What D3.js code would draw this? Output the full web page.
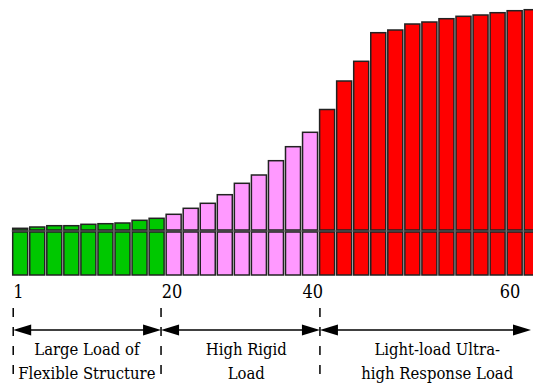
<!DOCTYPE html>
<html>
<head>
<meta charset="utf-8">
<script src="https://cdn.jsdelivr.net/npm/d3@7"></script>
<style>
  body { margin: 0; background: #fff; }
</style>
</head>
<body>
<svg id="chart" width="533" height="383"></svg>
<script>
// bar totals (upper segment top), one per bar
const loadValues = [46.7, 48, 49.3, 49.3, 50.7, 51.3, 52, 54.7, 56.7,
                    60.7, 66.7, 71.7, 80.3, 91.7, 100, 114.3, 128.3, 142.7,
                    165.5, 194, 213.7, 242.3, 245, 251, 253, 256.3, 258.7, 260, 262.3, 264.3, 265.3];
const baseValue = 43;
const gapValue = 2;

const phaseNames = [["Large Load of", "Flexible Structure"],
                    ["High Rigid", "Load"],
                    ["Light-load Ultra-", "high Response Load"]];
const phaseCounts = [9, 9, 13];
const phaseColors = ["#00c800", "#ff99ff", "#ff0000"];
const phaseBounds = [0.03, 8.7, 18.02, 30.4];
const phaseLabelPos = [4.35, 13.7, 24.9];

const tickLabels = ["1", "20", "40", "60"];
const tickPos = [0.33, 9.35, 17.6, 29.17];

const width = 533, height = 383;
const step = 17.05, x0 = 12.7;
const fontFam = "'DejaVu Serif Condensed', 'DejaVu Serif', serif";

const svg = d3.select("#chart");

const phaseOf = loadValues.map((d, i) => {
    let acc = 0;
    for (let p = 0; p < phaseCounts.length; p++) {
        acc += phaseCounts[p];
        if (i < acc) return p;
    }
    return phaseCounts.length - 1;
});

const xScale = d3.scaleBand()
                 .domain(loadValues.map((d, i) => i))
                 .range([x0 - step * 0.06, x0 - step * 0.06 + step * loadValues.length])
                 .paddingInner(0.12)
                 .paddingOuter(0.06);

// fractional bar index -> pixel, for labels and stage markers
const xPos = d3.scaleLinear()
               .domain([0, 1])
               .range([x0, x0 + step]);

const yScale = d3.scaleLinear()
                 .domain([0, 270])
                 .range([275, 5]);

// break line
svg.append("line")
   .attr("x1", xScale(0) - 1)
   .attr("x2", width)
   .attr("y1", yScale(baseValue + gapValue / 2))
   .attr("y2", yScale(baseValue + gapValue / 2))
   .attr("stroke", "#888")
   .attr("stroke-width", 1.5);

// lower segment
svg.append("g")
   .selectAll("rect")
   .data(loadValues)
   .enter()
   .append("rect")
        .attr("x", (d, i) => xScale(i))
        .attr("y", yScale(baseValue))
        .attr("width", xScale.bandwidth())
        .attr("height", yScale(0) - yScale(baseValue))
        .attr("fill", (d, i) => phaseColors[phaseOf[i]])
        .attr("stroke", "#222")
        .attr("stroke-width", 1.5);

// upper segment
svg.append("g")
   .selectAll("rect")
   .data(loadValues)
   .enter()
   .append("rect")
        .attr("x", (d, i) => xScale(i))
        .attr("y", d => yScale(d))
        .attr("width", xScale.bandwidth())
        .attr("height", d => Math.max(0.5, yScale(baseValue + gapValue) - yScale(d)))
        .attr("fill", (d, i) => phaseColors[phaseOf[i]])
        .attr("stroke", "#222")
        .attr("stroke-width", 1.5);

// tick labels
svg.append("g")
   .selectAll("text")
   .data(tickLabels)
   .enter()
   .append("text")
        .attr("x", (d, i) => xPos(tickPos[i]))
        .attr("y", 298)
        .attr("text-anchor", "middle")
        .style("font-family", fontFam)
        .style("font-stretch", "condensed")
        .style("font-size", "18px")
        .text(d => d);

// stage markers
const bounds = phaseBounds.slice(0, 3);
svg.append("g")
   .selectAll("line")
   .data(bounds)
   .enter()
   .append("line")
        .attr("x1", d => xPos(d))
        .attr("x2", d => xPos(d))
        .attr("y1", 308)
        .attr("y2", 383)
        .attr("stroke", "#000")
        .attr("stroke-width", 1.5)
        .attr("stroke-dasharray", "9,10");

const arrowY = 330;
const headLen = 18, headHalf = 5.5;
const arrows = phaseNames.map((d, i) => ({ a: xPos(phaseBounds[i]), b: Math.min(xPos(phaseBounds[i + 1]), width - 1) }));

const ag = svg.append("g");
ag.selectAll("line")
  .data(arrows)
  .enter()
  .append("line")
       .attr("x1", d => d.a + 4)
       .attr("x2", d => d.b - 4)
       .attr("y1", arrowY)
       .attr("y2", arrowY)
       .attr("stroke", "#000")
       .attr("stroke-width", 1.5);

const heads = [];
arrows.forEach(d => {
    heads.push([[d.a, arrowY], [d.a + headLen, arrowY - headHalf], [d.a + headLen, arrowY + headHalf]]);
    heads.push([[d.b, arrowY], [d.b - headLen, arrowY - headHalf], [d.b - headLen, arrowY + headHalf]]);
});
ag.selectAll("path")
  .data(heads)
  .enter()
  .append("path")
       .attr("d", d => "M" + d.map(p => p.join(",")).join("L") + "Z")
       .attr("fill", "#000");

// stage names
const lg = svg.append("g");
phaseNames.forEach((lines, i) => {
    lg.append("text")
      .attr("x", xPos(phaseLabelPos[i]))
      .attr("y", 355)
      .attr("text-anchor", "middle")
      .style("font-family", fontFam)
      .style("font-stretch", "condensed")
      .style("font-size", "16.5px")
      .selectAll("tspan")
      .data(lines)
      .enter()
      .append("tspan")
           .attr("x", xPos(phaseLabelPos[i]))
           .attr("dy", (d, j) => j === 0 ? 0 : 23.5)
           .text(d => d);
});
</script>
</body>
</html>
